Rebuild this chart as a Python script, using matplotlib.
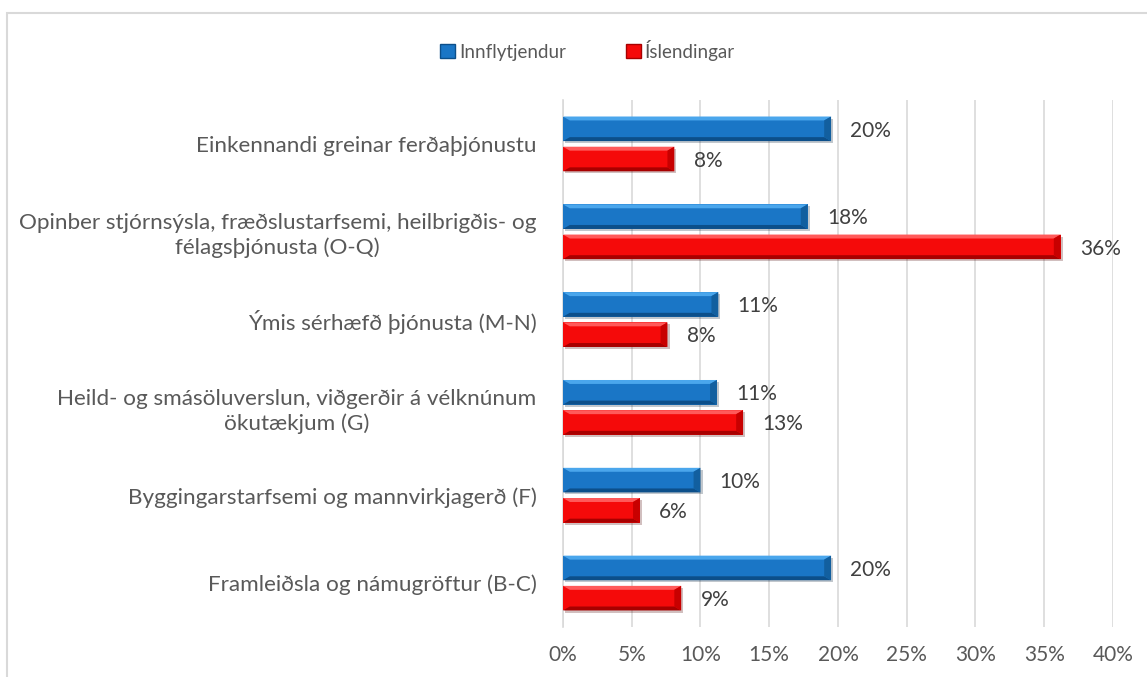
import matplotlib
matplotlib.use("Agg")
import matplotlib.pyplot as plt
import matplotlib.patheffects as pe
from matplotlib.patches import Patch, Rectangle
import numpy as np

# ---------------------------------------------------------------------------
# Data (shares of employed, %)
# ---------------------------------------------------------------------------
CATEGORIES = [
    "Einkennandi greinar ferðaþjónustu",
    "Opinber stjórnsýsla, fræðslustarfsemi, heilbrigðis- og\nfélagsþjónusta (O-Q)",
    "Ýmis sérhæfð þjónusta (M-N)",
    "Heild- og smásöluverslun, viðgerðir á vélknúnum\nökutækjum (G)",
    "Byggingarstarfsemi og mannvirkjagerð (F)",
    "Framleiðsla og námugröftur (B-C)",
]
INNFLYTJENDUR = [19.5, 17.8, 11.3, 11.2, 10.0, 19.5]
ISLENDINGAR = [8.1, 36.2, 7.6, 13.1, 5.6, 8.6]
SERIES = ["Innflytjendur", "Íslendingar"]
X_TICKS = [0, 5, 10, 15, 20, 25, 30, 35, 40]

# colours: (main, light top, dark bottom, end)
BLUE = ("#1a76c6", "#4aa6ec", "#0c4f8a", "#125f9f")
RED = ("#f50a0a", "#ff5a5a", "#a80000", "#c80000")

TEXT = "#595959"
GRID = "#d9d9d9"
FONT = ["Lato", "DejaVu Sans"]
plt.rcParams["font.family"] = FONT
FS = 15

fig = plt.figure(figsize=(11.47, 6.77), dpi=100)
ax = fig.add_axes([0.4908, 0.0739, 0.4795, 0.7784])

# chart frame
fig.patches.append(Rectangle((0.0061, -0.05), 1.2, 1.0311, transform=fig.transFigure,
                             fill=False, edgecolor=GRID, linewidth=1.5))

y = np.arange(len(CATEGORIES))
h = 0.28
off = 0.172

# bevel sizes in data units (~7 px horizontally, ~4 px vertically)
bx = 0.5
by = 0.045

shadow = [pe.SimplePatchShadow(offset=(1.5, -1.5), alpha=0.25), pe.Normal()]


def bevel_bars(ypos, vals, cols, label):
    bars = ax.barh(ypos, vals, height=h, color=cols[0], label=label, zorder=3,
                   linewidth=0)
    for b in bars:
        b.set_path_effects(shadow)
    for yc, w in zip(ypos, vals):
        yt, yb = yc - h / 2, yc + h / 2
        ax.fill([0, w, w - bx, bx], [yt, yt, yt + by, yt + by],
                color=cols[1], lw=0, zorder=4)
        ax.fill([0, w, w - bx, bx], [yb, yb, yb - by, yb - by],
                color=cols[2], lw=0, zorder=4)
        ax.fill([w, w, w - bx, w - bx], [yt, yb, yb - by, yt + by],
                color=cols[3], lw=0, zorder=4)
        ax.text(w + 1.4, yc + 0.02, f"{w:.0f}%", va="center", ha="left",
                fontsize=FS, color="#404040", zorder=5)
    return bars


bevel_bars(y - off, INNFLYTJENDUR, BLUE, SERIES[0])
bevel_bars(y + off, ISLENDINGAR, RED, SERIES[1])

ax.set_xlim(0, 40)
ax.set_ylim(len(CATEGORIES) - 0.5, -0.5)
ax.set_xticks(X_TICKS)
ax.set_xticklabels([f"{t}%" for t in X_TICKS], fontsize=FS, color=TEXT)
ax.set_yticks(y)
ax.set_yticklabels(CATEGORIES, fontsize=16.2, color=TEXT, multialignment="center",
                   linespacing=1.25)
ax.tick_params(axis="both", length=0)
ax.tick_params(axis="x", pad=13)
ax.tick_params(axis="y", pad=19)
ax.grid(axis="x", color=GRID, linewidth=1.2, zorder=0)
ax.set_axisbelow(True)
for s in ["top", "right", "bottom"]:
    ax.spines[s].set_visible(False)
ax.spines["left"].set_color(GRID)
ax.spines["left"].set_linewidth(1.2)

handles = [Patch(facecolor=BLUE[0], edgecolor=BLUE[2], linewidth=1),
           Patch(facecolor=RED[0], edgecolor=RED[2], linewidth=1)]
fig.legend(handles, SERIES, loc="center", bbox_to_anchor=(0.512, 0.926), ncol=2,
           frameon=False, fontsize=13.5, handlelength=0.8, handleheight=0.8,
           handletextpad=0.2, columnspacing=3.2, labelcolor=TEXT)

fig.savefig("out.png", dpi=100)
